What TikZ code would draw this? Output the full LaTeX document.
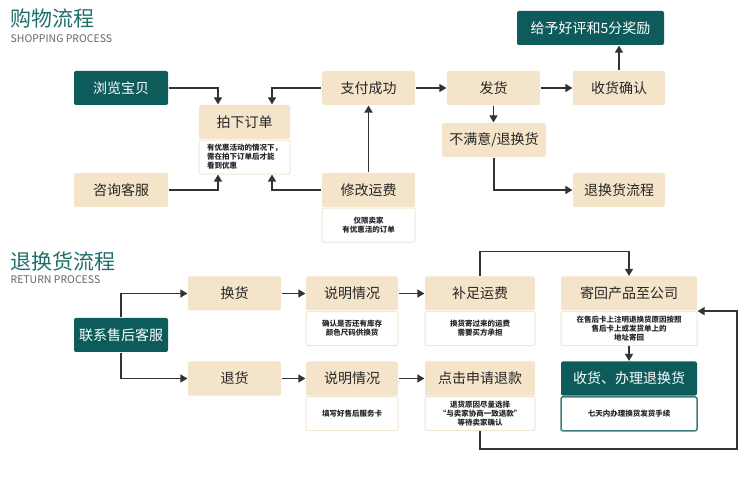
\documentclass[tikz,border=0pt]{standalone}
\usepackage{fontspec}
\setmainfont{Noto Sans CJK SC}
\usepackage{xcolor}
\definecolor{dnxanhdam}{HTML}{0E5B5C}
\definecolor{dnbe}{HTML}{F4E4C9}
\definecolor{dnvien}{HTML}{F1E6D3}
\definecolor{dntieude}{HTML}{1E6E6A}
\def\maunen{dnbe}
\def\mauchinh{dnxanhdam}
\def\mauvien{dnvien}
\usepackage{tikz}
\usetikzlibrary{arrows.meta,calc,positioning}

\begin{document}
\begin{tikzpicture}[x=1pt,y=-1pt,line width=1.2pt,
	hop/.style={fill=\maunen,rounded corners=2pt,minimum height=34pt,inner sep=0pt,font=\fontsize{14}{16}\selectfont,text=black!85},
	hopdam/.style={hop,fill=\mauchinh,text=white},
	ghichu/.style={draw=\mauvien,fill=white,rounded corners=2pt,line width=1pt,minimum height=34pt,inner sep=1pt,anchor=north,align=center,font=\fontsize{7.5}{9}\selectfont\bfseries,text=black!85},
	muiten/.style={draw=black!80,-{Triangle[length=7pt,width=8pt]}}]
	\useasboundingbox (0,0) rectangle (750,478);
	%%Vẽ tiêu đề%%
	\node[anchor=north west,inner sep=0pt,text=dntieude,font=\fontsize{21}{22}\selectfont] (tieude1) at (10,8) {购物流程};
	\node[anchor=north west,inner sep=0pt,text=black!60,font=\fontsize{10.5}{11}\selectfont] (phude1) at (10,34) {SHOPPING PROCESS};
	\node[anchor=north west,inner sep=0pt,text=dntieude,font=\fontsize{21}{22}\selectfont] (tieude2) at (10,251) {退换货流程};
	\node[anchor=north west,inner sep=0pt,text=black!60,font=\fontsize{10.5}{11}\selectfont] (phude2) at (10,275) {RETURN PROCESS};
	%%%Vẽ các khối chính
	\foreach [count=\i from 1] \s/\ten/\x/\y/\w/\n in {%
		hopdam/duyet/121/88/94/浏览宝贝,
		hop/tuvan/121/190/94/咨询客服,
		hop/chot/244.5/122/91/拍下订单,
		hop/thanhtoan/368.5/88/93/支付成功,
		hop/suaphi/368.5/190/93/修改运费,
		hop/giaohang/493.5/88/93/发货,
		hop/khonghailong/494/140/104/{不满意/退换货},
		hop/nhanhang/619/88/92/收货确认,
		hop/doitra/619/190/92/退换货流程,
		hopdam/danhgia/590.5/28/147/给予好评和5分奖励,
		hopdam/lienhe/121/335/94/联系售后客服,
		hop/doihang/234.5/293.5/93/换货,
		hop/trahang/234.5/378.5/93/退货,
		hop/giaithich1/352/293.5/92/说明情况,
		hop/giaithich2/352/378.5/92/说明情况,
		hop/buphi/480/293.5/110/补足运费,
		hop/hoantien/480/378.5/110/点击申请退款,
		hop/guive/629/293.5/136/寄回产品至公司,
		hopdam/xuly/629/378.5/136/收货、办理退换货
		}{%
		\node[\s,minimum width=\w pt] (\ten) at (\x,\y) {\n};
	}
	%%%Vẽ các ô ghi chú
	\node[ghichu,align=left,minimum width=91pt] (chot-gc) at (chot.south) {有优惠活动的情况下，\\需在拍下订单后才能\\看到优惠};
	\node[ghichu,minimum width=93pt] (suaphi-gc) at (suaphi.south) {仅限卖家\\有优惠活的订单};
	\node[ghichu,minimum width=92pt] (giaithich1-gc) at (giaithich1.south) {确认是否还有库存\\颜色尺码供换货};
	\node[ghichu,minimum width=92pt] (giaithich2-gc) at (giaithich2.south) {填写好售后服务卡};
	\node[ghichu,minimum width=110pt] (buphi-gc) at (buphi.south) {换货寄过来的运费\\需要买方承担};
	\node[ghichu,minimum width=110pt] (hoantien-gc) at (hoantien.south) {退货原因尽量选择\\“与卖家协商一致退款”\\等待卖家确认};
	\node[ghichu,minimum width=136pt] (guive-gc) at (guive.south) {在售后卡上注明退换货原因按照\\售后卡上或发货单上的\\地址寄回};
	\node[ghichu,draw=\mauchinh!80,line width=1.5pt,minimum width=136pt] (xuly-gc) at (xuly.south) {七天内办理换货发货手续};
	%%%Vẽ mũi tên phần mua hàng
	\draw[muiten] (duyet.east) -| ([xshift=-26.5pt]chot.north);
	\draw[muiten] (thanhtoan.west) -| ([xshift=27.5pt]chot.north);
	\draw[muiten] (tuvan.east) -| ([xshift=-26.5pt]chot-gc.south);
	\draw[muiten] (suaphi.west) -| ([xshift=27.5pt]chot-gc.south);
	\draw[muiten,line width=1.8pt] (suaphi.north) -- (thanhtoan.south);
	\draw[muiten] (thanhtoan) -- (giaohang);
	\draw[muiten] (giaohang) -- (nhanhang);
	\draw[muiten] (nhanhang.north) -- (nhanhang.north |- danhgia.south);
	\draw[muiten] (giaohang.south) -- (giaohang.south |- khonghailong.north);
	\draw[muiten] (khonghailong.south) |- (doitra.west);
	%%%Vẽ mũi tên phần đổi trả
	\draw[muiten] (lienhe.north) |- (doihang.west);
	\draw[muiten] (lienhe.south) |- (trahang.west);
	\draw[muiten] (doihang) -- (giaithich1);
	\draw[muiten] (trahang) -- (giaithich2);
	\draw[muiten] (giaithich1) -- (buphi);
	\draw[muiten] (giaithich2) -- (hoantien);
	\draw[muiten] (buphi.north) -- ++(0,-24) -| (guive.north);
	\draw[muiten] (guive-gc.south) -- (xuly.north);
	\coordinate (goc) at (737,449);
	\draw[muiten] (hoantien-gc.south) |- (goc) |- (guive.south east);
\end{tikzpicture}
\end{document}
